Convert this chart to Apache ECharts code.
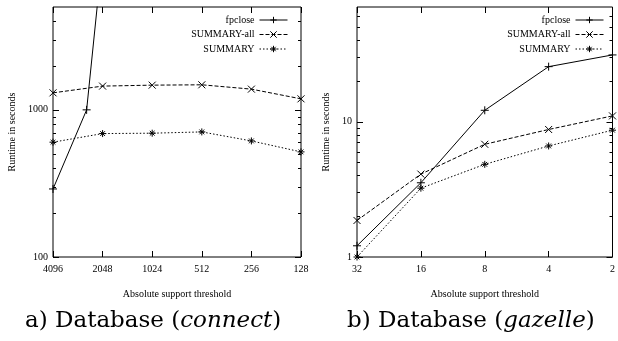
<!DOCTYPE html>
<html><head><meta charset="utf-8">
<script src="https://cdn.jsdelivr.net/npm/echarts@6/dist/echarts.min.js"></script>
<style>html,body{margin:0;padding:0;background:#fff}#c{width:618px;height:341px}</style>
</head><body><div id="c"></div>
<script>
// ---- data (a) connect ----
const connectThresholds = [4096, 2048, 1024, 512, 256, 128];
const connectFpcloseThresholds = [4096, 2560, 2048];
const connectFpclose = [290, 1000, 11500];
const connectSummaryAll = [1305, 1450, 1472, 1480, 1383, 1188];
const connectSummary = [603, 690, 694, 708, 615, 518];
const connectYTicks = [100, 1000];
const connectYMinor = [200, 300, 400, 500, 600, 700, 800, 900, 2000, 3000, 4000];
// ---- data (b) gazelle ----
const gazelleThresholds = [32, 16, 8, 4, 2];
const gazelleFpclose = [1.21, 3.53, 12.1, 25.4, 31];
const gazelleSummaryAll = [1.86, 4.09, 6.79, 8.73, 11.0];
const gazelleSummary = [1.0, 3.22, 4.83, 6.6, 8.63];
const gazelleYTicks = [1, 10];
const gazelleYMinor = [2, 3, 4, 5, 6, 7, 8, 9, 20, 30, 40, 50, 60];

const seriesNames = ['fpclose', 'SUMMARY-all', 'SUMMARY'];
const FONT = 'Liberation Serif';
const zip = (xs, ys) => xs.map((x, i) => [x, ys[i]]);

const SYM = {
  'fpclose': 'path://M0,5L10,5M5,0L5,10',
  'SUMMARY-all': 'path://M0,0L10,10M10,0L0,10',
  'SUMMARY': 'path://M0,5L10,5M5,0L5,10M1.6,1.6L8.4,8.4M8.4,1.6L1.6,8.4'
};
const DASH = { 'fpclose': 'solid', 'SUMMARY-all': [4, 2], 'SUMMARY': [1.5, 2] };
const SIZE = { 'fpclose': 8, 'SUMMARY-all': 7, 'SUMMARY': 7 };

function mkSeries(name, data, xi, yi) {
  return {
    type: 'line', name, data, xAxisIndex: xi, yAxisIndex: yi,
    symbol: SYM[name], symbolSize: SIZE[name], showSymbol: true,
    itemStyle: { color: '#000', borderColor: '#000', borderWidth: 1 },
    lineStyle: { color: '#000', width: 1, type: DASH[name] },
    emphasis: { disabled: true }, animation: false, clip: true, z: 5
  };
}

// y-axis ticks (gnuplot style, mirrored, inward) drawn through the log y axis
function tickSeries(xi, yi, anchorX, majors, minors) {
  const data = majors.map(v => [anchorX, v, 6]).concat(minors.map(v => [anchorX, v, 3]));
  return {
    type: 'custom', name: 'yticks', xAxisIndex: xi, yAxisIndex: yi, silent: true, animation: false, z: 4,
    data,
    renderItem: (params, api) => {
      const cs = params.coordSys;
      const len = api.value(2);
      const y = Math.round(api.coord([api.value(0), api.value(1)])[1]) + 0.5;
      const st = { stroke: '#000', lineWidth: 1 };
      return { type: 'group', children: [
        { type: 'line', shape: { x1: cs.x, y1: y, x2: cs.x + len, y2: y }, style: st },
        { type: 'line', shape: { x1: cs.x + cs.width - len, y1: y, x2: cs.x + cs.width, y2: y }, style: st }
      ] };
    }
  };
}

const tickStyle = { color: '#000', width: 1 };

function xAxes(gi, ticks, min, max) {
  const base = {
    type: 'log', logBase: 2, gridIndex: gi, min, max, inverse: true,
    axisLine: { show: false }, splitLine: { show: false },
    axisTick: { show: true, inside: true, length: 6, lineStyle: tickStyle }
  };
  return [
    Object.assign({}, base, {
      position: 'bottom',
      axisLabel: { show: true, customValues: ticks, formatter: v => String(Math.round(v)), fontFamily: FONT, fontSize: 10, color: '#000', margin: 7 },
      name: 'Absolute support threshold', nameLocation: 'middle', nameGap: 32,
      nameTextStyle: { fontFamily: FONT, fontSize: 10, color: '#000' }
    }),
    Object.assign({}, base, { position: 'top', axisLabel: { show: false } })
  ];
}

function yAxis(gi, ticks, min, max, nameGap) {
  return {
    type: 'log', logBase: 10, gridIndex: gi, min, max, position: 'left',
    axisLine: { show: false }, splitLine: { show: false }, axisTick: { show: false },
    axisLabel: { show: true, customValues: ticks, formatter: v => String(Math.round(v)), fontFamily: FONT, fontSize: 10, color: '#000', margin: 5 },
    name: 'Runtime in seconds', nameLocation: 'middle', nameGap, nameRotate: 90,
    nameTextStyle: { fontFamily: FONT, fontSize: 10, color: '#000' }
  };
}

const legendBase = {
  orient: 'vertical', align: 'right', itemWidth: 28, itemHeight: 8, itemGap: 4.5,
  textStyle: { fontFamily: FONT, fontSize: 10, color: '#000' }, data: seriesNames,
  selectedMode: false, top: 10,
  lineStyle: { width: 1 }, itemStyle: { borderWidth: 1 }
};

const option = {
  animation: false,
  backgroundColor: '#fff',
  grid: [
    { left: 53, top: 7, width: 248, height: 250, show: true, borderColor: '#000', borderWidth: 1, backgroundColor: 'transparent' },
    { left: 357, top: 7, width: 259, height: 250, show: true, borderColor: '#000', borderWidth: 1, backgroundColor: 'transparent' }
  ],
  xAxis: [
    ...xAxes(0, connectThresholds, 128, 4096),
    ...xAxes(1, gazelleThresholds, 2, 32)
  ],
  yAxis: [
    yAxis(0, connectYTicks, 100, 5000, 36),
    yAxis(1, gazelleYTicks, 1, 70, 26)
  ],
  legend: [
    Object.assign({}, legendBase, { right: 325 }),
    Object.assign({}, legendBase, { right: 9 })
  ],
  series: [
    mkSeries('fpclose', zip(connectFpcloseThresholds, connectFpclose), 0, 0),
    mkSeries('SUMMARY-all', zip(connectThresholds, connectSummaryAll), 0, 0),
    mkSeries('SUMMARY', zip(connectThresholds, connectSummary), 0, 0),
    mkSeries('fpclose', zip(gazelleThresholds, gazelleFpclose), 2, 1),
    mkSeries('SUMMARY-all', zip(gazelleThresholds, gazelleSummaryAll), 2, 1),
    mkSeries('SUMMARY', zip(gazelleThresholds, gazelleSummary), 2, 1),
    tickSeries(0, 0, 1024, connectYTicks, connectYMinor),
    tickSeries(2, 1, 8, gazelleYTicks, gazelleYMinor)
  ],
  graphic: [
    { type: 'text', left: 25, top: 310, style: { text: '{n|a) Database (}{i|connect}{n|)}', rich: {
      n: { fontFamily: 'DejaVu Serif', fontSize: 23, fill: '#000' },
      i: { fontFamily: 'DejaVu Serif', fontSize: 23, fontStyle: 'italic', fill: '#000' } } } },
    { type: 'text', left: 347, top: 310, style: { text: '{n|b) Database (}{i|gazelle}{n|)}', rich: {
      n: { fontFamily: 'DejaVu Serif', fontSize: 23, fill: '#000' },
      i: { fontFamily: 'DejaVu Serif', fontSize: 23, fontStyle: 'italic', fill: '#000' } } } }
  ]
};
echarts.init(document.getElementById('c'), null, { renderer: 'canvas' }).setOption(option);
</script></body></html>
